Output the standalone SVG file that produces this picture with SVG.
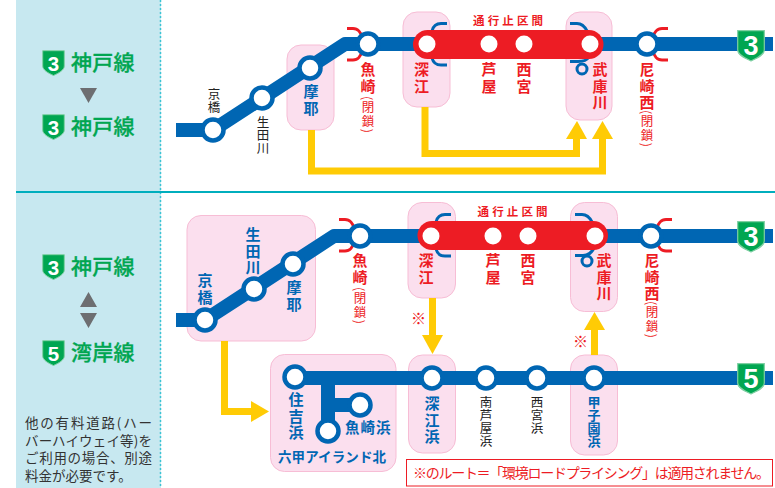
<svg xmlns="http://www.w3.org/2000/svg" width="775" height="488" viewBox="0 0 775 488">
<style>
text{font-family:"Noto Sans CJK JP","Noto Sans",sans-serif}
.v{writing-mode:vertical-rl}
.b15{font-size:15px;font-weight:700;letter-spacing:1.6px}
.k{font-size:12.5px;fill:#222;letter-spacing:.6px}
.cl{font-size:12.5px;fill:#ed1c24;letter-spacing:1.2px}
.blue{fill:#0066b3}
.red{fill:#ed1c24}
.zone{fill:#fbdfee;stroke:#f7bdd5;stroke-width:1}
.line{fill:none;stroke:#0066b3;stroke-width:14;stroke-linejoin:round}
.yl{fill:none;stroke:#ffcb05;stroke-width:7}
.yh{fill:#ffcb05}
.st{fill:#fff;stroke:#0066b3;stroke-width:4.500}
.wh{fill:#fff}
.bk{fill:none;stroke-width:3;stroke-linecap:butt}
.bb{stroke:#0066b3}
.br{stroke:#ed1c24}
.sign{font-size:21px;font-weight:500;fill:#00a651;stroke:#00a651;stroke-width:.3;letter-spacing:.3px}
.num{font-family:"Liberation Sans",sans-serif;font-weight:700;fill:#fff;text-anchor:middle}
.tri{fill:#6d6e71}
.tt{font-size:11.5px;font-weight:700;fill:#ed1c24}
.note{font-size:13.500px;fill:#333}
</style>
<defs>
<path id="sh" d="M0.7 0.7H27.3V20C27.3 25 20 28 14 31C8 28 0.7 25 0.7 20Z" fill="#00a651" stroke="#7fd0a3" stroke-width="1.2"/>
<path id="sh2" d="M0.7 0.7H22.3V16C22.3 20 17 23 11.500 25.500C6 23 0.7 20 0.7 16Z" fill="#00a651" stroke="#7fd0a3" stroke-width="1"/>
</defs>
<rect x="16" y="0" width="145" height="488" fill="#c7e8f0"/>
<path d="M160.500 0V488" stroke="#3cc4d4" stroke-width="1.500" stroke-dasharray="2 2" fill="none"/>
<path d="M16 192H775" stroke="#00aebd" stroke-width="2" fill="none"/>

<g id="side-top">
<use href="#sh2" x="42" y="50"/><text class="num" x="53.500" y="70.500" font-size="20.500">3</text>
<text class="sign" x="71" y="70">神戸線</text>
<path class="tri" d="M80 88H97L88.500 103Z"/>
<use href="#sh2" x="42" y="114"/><text class="num" x="53.500" y="134.500" font-size="20.500">3</text>
<text class="sign" x="71" y="134">神戸線</text>
</g>
<g id="side-bottom">
<use href="#sh2" x="42" y="254"/><text class="num" x="53.500" y="274.500" font-size="20.500">3</text>
<text class="sign" x="71" y="274">神戸線</text>
<path class="tri" d="M80 307H97L88.500 292ZM80 313H97L88.500 328Z"/>
<use href="#sh2" x="42" y="340"/><text class="num" x="53.500" y="360.500" font-size="20.500">5</text>
<text class="sign" x="71" y="360">湾岸線</text>
<text class="note"><tspan x="25" y="428" textLength="127">他の有料道路(ハー</tspan><tspan x="25" y="446" textLength="127">バーハイウェイ等)を</tspan><tspan x="25" y="463" textLength="127">ご利用の場合、別途</tspan><tspan x="25" y="481">料金が必要です。</tspan></text>
</g>

<g id="zones">
<rect id="zone-maya-1" class="zone" x="287" y="45" width="47" height="85" rx="14"/>
<rect id="zone-fukae-1" class="zone" x="403" y="12" width="47" height="95" rx="14"/>
<rect id="zone-mukogawa-1" class="zone" x="566" y="12" width="46" height="108" rx="14"/>
<rect id="zone-kyobashi-2" class="zone" x="187" y="215.500" width="128.500" height="125.500" rx="14"/>
<rect id="zone-fukae-2" class="zone" x="408" y="202.500" width="47.500" height="95.500" rx="14"/>
<rect id="zone-mukogawa-2" class="zone" x="570.500" y="202.500" width="47" height="109" rx="14"/>
<rect id="zone-sumiyoshi" class="zone" x="270.500" y="354.500" width="125.500" height="117" rx="14"/>
<rect id="zone-fukaehama" class="zone" x="408.500" y="355" width="47" height="98" rx="14"/>
<rect id="zone-koshien" class="zone" x="570.500" y="355" width="47" height="100" rx="14"/>
</g>

<g id="connectors">
<path class="yl" d="M311.500 130V171H602.500V138"/>
<path class="yh" d="M592 139H613L602.500 121Z"/>
<path class="yl" d="M425 107V153.500H576.500V138"/>
<path class="yh" d="M566 139H587L577 121Z"/>
<path class="yl" d="M224.500 341V411.500H252"/>
<path class="yh" d="M251 401V422L269 411.500Z"/>
<path class="yl" d="M432.500 298V336"/>
<path class="yh" d="M422 335H443L432.500 354Z"/>
<path class="yl" d="M594.500 355V329"/>
<path class="yh" d="M584 330H605L594.500 312Z"/>
<path class="line" d="M176 130H213L345 44H773"/>
<path class="line" d="M176 320H205L334 236H773"/>
<path class="line" d="M295 378H773"/>
<path class="line" d="M328 378V431M328 405H360"/>
<g id="brackets">
<path class="bk br" d="M347 28.500H353C358 28.500 361 33 362 37M347 60H353C358 60 361 55.500 362 51"/>
<path class="bk bb" d="M447 23.500H441C436 23.500 433 27 432 31M447 65H441C436 65 433 62 432 58"/>
<path class="bk bb" d="M570 23.500H577C582 23.500 585 27 587 31M570 61.500H578C583 61.500 587 60 589 57"/>
<path class="bk br" d="M668 28.500H662C657 28.500 654 33 653 37M668 60H662C657 60 654 55.500 653 51"/>
<path class="bk br" d="M339 219.500H345C350 219.500 353 224 354 228M339 251H345C350 251 353 246.500 354 242"/>
<path class="bk bb" d="M451 214.500H445C440 214.500 437 218 436 222M451 256H445C440 256 437 253 436 249"/>
<path class="bk bb" d="M575 214.500H582C587 214.500 590 218 592 222M575 255.500H583C588 255.500 592 252 594 248"/>
<path class="bk br" d="M672 219.500H666C661 219.500 658 224 657 228M672 251H666C661 251 658 246.500 657 242"/>
<circle class="bk bb" cx="582" cy="69" r="5"/>
<circle class="bk bb" cx="587" cy="261" r="5"/>
</g>
</g>

<g id="closed-section-1">
<rect class="red" x="413" y="30" width="190.500" height="29" rx="14.500"/>
<text class="tt" x="473" y="25" textLength="70">通行止区間</text>
</g>
<g id="closed-section-2">
<rect class="red" x="417.500" y="221" width="190.500" height="29" rx="14.500"/>
<text class="tt" x="477.500" y="216" textLength="70">通行止区間</text>
</g>

<g id="s1-kyobashi"><circle class="st" cx="213" cy="130" r="10.500"/><text class="v k" x="214" y="88">京橋</text></g>
<g id="s1-ikuta"><circle class="st" cx="262" cy="98" r="10.500"/><text class="v k" x="263" y="116">生田川</text></g>
<g id="s1-maya"><circle class="st" cx="310" cy="68" r="10.500"/><text class="v b15 blue" x="311" y="84">摩耶</text></g>
<g id="s1-uozaki"><circle class="st" cx="368" cy="44" r="10.500"/><text class="v b15 red" x="368" y="62">魚崎</text><text class="v cl" x="368" y="96">(閉鎖)</text></g>
<g id="s1-fukae"><circle class="wh" cx="427" cy="44" r="8.500"/><text class="v b15 red" x="421.500" y="62">深江</text></g>
<g id="s1-ashiya"><circle class="wh" cx="489" cy="44" r="8.500"/><text class="v b15 red" x="489" y="62">芦屋</text></g>
<g id="s1-nishinomiya"><circle class="wh" cx="524" cy="44" r="8.500"/><text class="v b15 red" x="524" y="62">西宮</text></g>
<g id="s1-mukogawa"><circle class="wh" cx="590" cy="44" r="8.500"/><text class="v b15 red" x="600" y="62">武庫川</text></g>
<g id="s1-amagasaki"><circle class="st" cx="647" cy="44" r="10.500"/><text class="v b15 red" x="647" y="62">尼崎西</text><text class="v cl" x="647" y="110">(閉鎖)</text></g>
<g id="s1-route3"><use href="#sh" x="737" y="30"/><text class="num" x="751" y="54.500" font-size="27">3</text></g>

<g id="s2-kyobashi"><circle class="st" cx="205" cy="320" r="10.500"/><text class="v b15 blue" x="205" y="273">京橋</text></g>
<g id="s2-ikuta"><circle class="st" cx="254" cy="289" r="10.500"/><text class="v b15 blue" x="253" y="227">生田川</text></g>
<g id="s2-maya"><circle class="st" cx="293" cy="264" r="10.500"/><text class="v b15 blue" x="294" y="280">摩耶</text></g>
<g id="s2-uozaki"><circle class="st" cx="360" cy="236" r="10.500"/><text class="v b15 red" x="360" y="253">魚崎</text><text class="v cl" x="360" y="287">(閉鎖)</text></g>
<g id="s2-fukae"><circle class="wh" cx="431" cy="236" r="8.500"/><text class="v b15 red" x="426" y="253">深江</text></g>
<g id="s2-ashiya"><circle class="wh" cx="493" cy="236" r="8.500"/><text class="v b15 red" x="493" y="253">芦屋</text></g>
<g id="s2-nishinomiya"><circle class="wh" cx="528" cy="236" r="8.500"/><text class="v b15 red" x="528" y="253">西宮</text></g>
<g id="s2-mukogawa"><circle class="wh" cx="595" cy="236" r="8.500"/><text class="v b15 red" x="604" y="253">武庫川</text></g>
<g id="s2-amagasaki"><circle class="st" cx="651" cy="236" r="10.500"/><text class="v b15 red" x="652" y="253">尼崎西</text><text class="v cl" x="652" y="301">(閉鎖)</text></g>
<g id="s2-route3"><use href="#sh" x="737" y="221"/><text class="num" x="751" y="245.500" font-size="27">3</text></g>

<g id="s3-sumiyoshi"><circle class="st" cx="295" cy="377" r="10.500"/><text class="v b15 blue" x="296" y="392">住吉浜</text></g>
<g id="s3-uozakihama"><circle class="st" cx="360" cy="405" r="10.500"/><text class="b15 blue" x="345" y="433" style="font-size:14.500px;letter-spacing:1px">魚崎浜</text></g>
<g id="s3-rokko"><circle class="st" cx="328" cy="431" r="10.500"/><text class="blue" x="278" y="462" style="font-size:13.500px;font-weight:700" textLength="108">六甲アイランド北</text></g>
<g id="s3-fukaehama"><circle class="st" cx="432" cy="378" r="10.500"/><text class="v b15 blue" x="432" y="396">深江浜</text></g>
<g id="s3-minamiashiya"><circle class="st" cx="486" cy="378" r="10.500"/><text class="v k" x="486" y="396">南芦屋浜</text></g>
<g id="s3-nishinomiyahama"><circle class="st" cx="537" cy="378" r="10.500"/><text class="v k" x="537" y="396">西宮浜</text></g>
<g id="s3-koshien"><circle class="st" cx="594" cy="378" r="10.500"/><text class="v blue" x="594" y="396" style="font-size:13px;font-weight:700">甲子園浜</text></g>
<g id="s3-route5"><use href="#sh" x="737" y="363"/><text class="num" x="751" y="387.500" font-size="27">5</text></g>

<g id="notes">
<text class="red" x="411" y="324" font-size="15">※</text>
<text class="red" x="573" y="347" font-size="15">※</text>
<rect x="406.500" y="459.500" width="366" height="26.500" fill="#fff" stroke="#ed1c24" stroke-width="1"/>
<text class="red" x="413" y="478" font-size="14" textLength="357">※のルート＝「環境ロードプライシング」は適用されません。</text>
</g>
</svg>
